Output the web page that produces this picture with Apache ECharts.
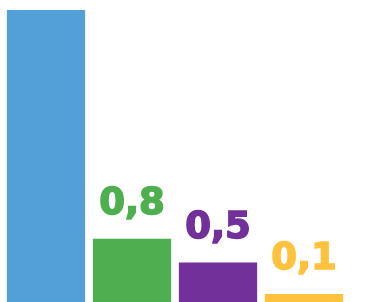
<!DOCTYPE html>
<html>
<head>
<meta charset="utf-8">
<script src="https://cdn.jsdelivr.net/npm/echarts@6/dist/echarts.min.js"></script>
<style>
  html, body { margin: 0; padding: 0; background: #fff; }
  #chart { width: 375px; height: 302px; }
</style>
</head>
<body>
<div id="chart"></div>
<script>
// data
const categories = ['A', 'B', 'C', 'D']
const values = [3.7, 0.8, 0.5, 0.1]
const colors = ['#539fd7', '#4eaf4f', '#71309a', '#ffc23d']

const myChart = echarts.init(document.getElementById('chart'))
myChart.setOption({
  animation: false,
  grid: {
    top: 10,
    left: 3,
    right: 28,
    bottom: -2
  },
  xAxis: {
    type: 'category',
    data: categories,
    show: false
  },
  yAxis: {
    type: 'value',
    min: 0,
    max: 3.7,
    show: false
  },
  series: [
    {
      type: 'bar',
      barCategoryGap: '9%',
      data: values.map((v, i) => ({
        value: v,
        itemStyle: { color: colors[i] },
        // the tallest bar's label sits above the picture
        label: { show: i > 0, color: colors[i], textBorderColor: colors[i] }
      })),
      label: {
        position: 'top',
        distance: 16,
        fontFamily: 'DejaVu Sans',
        fontWeight: 'bold',
        fontSize: 37,
        textBorderWidth: 1.6,
        formatter: p => String(p.value).replace('.', ',')
      }
    }
  ]
})
</script>
</body>
</html>
